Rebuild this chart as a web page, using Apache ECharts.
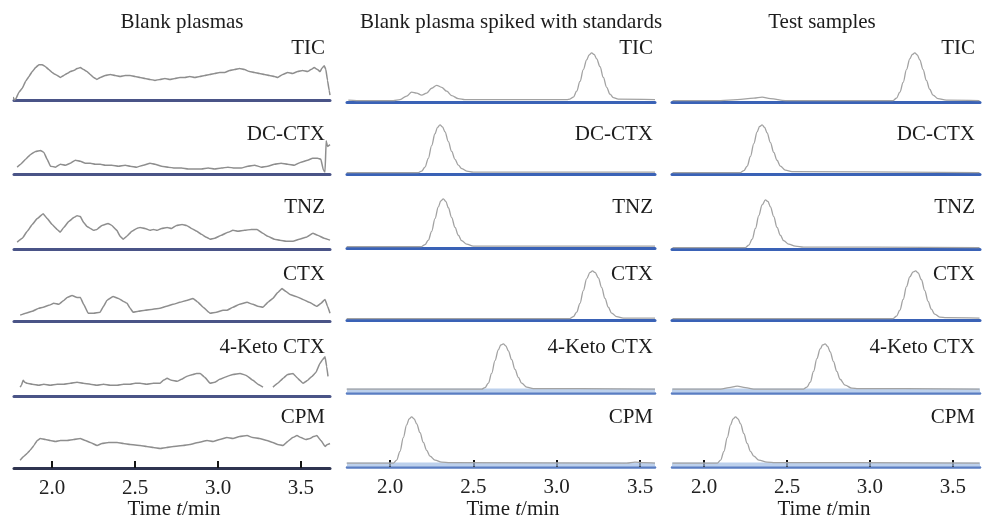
<!DOCTYPE html>
<html>
<head>
<meta charset="utf-8">
<script src="https://cdn.jsdelivr.net/npm/echarts@6/dist/echarts.min.js"></script>
<style>html,body{margin:0;padding:0;background:#fff}#c{width:982px;height:525px}</style>
</head>
<body>
<div id="c"></div>
<script>
// ---- text ----
const columnTitles = ['Blank plasmas', 'Blank plasma spiked with standards', 'Test samples'];
const rowLabels = ['TIC', 'DC-CTX', 'TNZ', 'CTX', '4-Keto CTX', 'CPM'];
const tickValues = [2.0, 2.5, 3.0, 3.5];

// ---- data: [time (min), relative intensity] ----
// Blank plasmas
const blankTIC = [[1.765,6],[1.772,0],[1.78,2],[1.8,16],[1.82,24],[1.84,38],[1.86,48],[1.88,58],[1.9,66],[1.92,72],[1.94,72],[1.96,68],[1.98,62],[2,56],[2.02,52],[2.05,46],[2.07,50],[2.09,54],[2.11,58],[2.13,60],[2.15,64],[2.17,66],[2.19,62],[2.21,58],[2.23,52],[2.25,46],[2.27,42],[2.29,46],[2.32,50],[2.35,52],[2.38,50],[2.41,48],[2.44,50],[2.47,50],[2.5,48],[2.53,46],[2.56,44],[2.59,42],[2.62,40],[2.65,42],[2.68,44],[2.71,42],[2.74,44],[2.77,46],[2.8,46],[2.83,48],[2.86,46],[2.89,48],[2.92,50],[2.95,52],[2.98,54],[3.01,56],[3.04,56],[3.07,60],[3.1,62],[3.13,64],[3.16,62],[3.19,58],[3.22,56],[3.25,54],[3.28,52],[3.31,50],[3.34,48],[3.36,46],[3.39,52],[3.42,56],[3.45,54],[3.48,58],[3.51,60],[3.54,58],[3.56,62],[3.58,66],[3.6,62],[3.615,58],[3.625,64],[3.64,70],[3.65,62],[3.66,40],[3.67,20],[3.675,10]];
const blankDC = [[1.789,14],[1.81,20],[1.84,30],[1.87,40],[1.9,46],[1.93,48],[1.95,44],[1.97,30],[1.99,16],[2.02,14],[2.05,20],[2.08,18],[2.11,22],[2.14,28],[2.17,26],[2.2,22],[2.23,22],[2.26,20],[2.29,20],[2.32,18],[2.36,18],[2.4,16],[2.44,18],[2.47,16],[2.51,14],[2.55,18],[2.59,22],[2.62,20],[2.66,16],[2.7,14],[2.74,12],[2.78,12],[2.82,10],[2.86,10],[2.9,10],[2.94,12],[2.98,10],[3.02,12],[3.06,14],[3.1,12],[3.14,12],[3.18,16],[3.22,18],[3.26,14],[3.3,16],[3.34,20],[3.38,22],[3.42,20],[3.46,18],[3.5,24],[3.54,28],[3.57,32],[3.6,32],[3.62,30],[3.635,8],[3.645,4],[3.652,68],[3.66,56],[3.675,60]];
const blankTNZ = [[1.789,14],[1.82,22],[1.85,36],[1.88,50],[1.91,62],[1.946,72],[1.97,62],[2,50],[2.03,40],[2.048,34],[2.07,44],[2.1,56],[2.13,64],[2.151,68],[2.17,66],[2.19,54],[2.21,46],[2.23,42],[2.25,38],[2.27,40],[2.3,48],[2.337,52],[2.36,48],[2.39,38],[2.41,26],[2.428,20],[2.45,26],[2.48,36],[2.51,42],[2.53,44],[2.56,42],[2.59,38],[2.61,40],[2.633,38],[2.66,42],[2.693,44],[2.72,42],[2.75,48],[2.783,50],[2.81,48],[2.84,42],[2.873,36],[2.9,30],[2.93,24],[2.952,20],[2.98,22],[3.02,28],[3.06,34],[3.09,38],[3.12,36],[3.16,38],[3.2,40],[3.235,40],[3.27,32],[3.3,26],[3.34,20],[3.373,18],[3.41,16],[3.452,16],[3.49,20],[3.53,24],[3.572,32],[3.6,28],[3.64,22],[3.675,18]];
const blankCTX = [[1.807,12],[1.84,16],[1.88,20],[1.92,26],[1.946,28],[1.98,32],[2.01,36],[2.04,34],[2.07,42],[2.09,48],[2.12,52],[2.15,48],[2.17,48],[2.19,34],[2.217,16],[2.25,16],[2.289,18],[2.31,30],[2.33,42],[2.367,50],[2.4,46],[2.43,40],[2.452,36],[2.47,26],[2.488,18],[2.52,20],[2.56,22],[2.608,24],[2.65,26],[2.69,30],[2.729,34],[2.77,38],[2.81,42],[2.849,46],[2.88,38],[2.91,28],[2.952,16],[2.99,18],[3.03,22],[3.054,22],[3.09,28],[3.13,34],[3.175,38],[3.21,34],[3.24,30],[3.271,28],[3.3,38],[3.33,46],[3.36,58],[3.386,66],[3.41,60],[3.434,54],[3.47,50],[3.512,44],[3.55,38],[3.596,30],[3.62,36],[3.645,44],[3.66,30],[3.675,16]];
const blank4K = [[1.807,18],[1.815,22],[1.825,32],[1.835,28],[1.849,26],[1.88,24],[1.92,22],[1.95,24],[1.988,22],[2.03,24],[2.07,24],[2.11,26],[2.15,28],[2.187,26],[2.23,24],[2.27,22],[2.31,24],[2.35,22],[2.392,22],[2.43,24],[2.47,24],[2.5,26],[2.53,26],[2.57,24],[2.61,26],[2.651,26],[2.67,32],[2.693,36],[2.72,32],[2.753,30],[2.78,34],[2.81,40],[2.849,44],[2.87,46],[2.892,46],[2.92,38],[2.952,26],[2.98,28],[3.01,34],[3.054,40],[3.09,44],[3.133,46],[3.17,42],[3.211,32],[3.24,24],[3.271,18],[3.3,null],[3.331,18],[3.36,26],[3.392,36],[3.42,44],[3.452,46],[3.48,36],[3.512,26],[3.54,32],[3.566,40],[3.59,48],[3.614,66],[3.63,74],[3.645,80],[3.655,60],[3.663,40]];
const blankCPM = [[1.807,16],[1.83,24],[1.85,30],[1.867,36],[1.89,46],[1.91,56],[1.928,60],[1.96,58],[1.988,56],[2.02,54],[2.05,56],[2.09,56],[2.13,58],[2.169,60],[2.2,56],[2.23,52],[2.271,46],[2.3,50],[2.34,52],[2.392,52],[2.43,50],[2.47,48],[2.53,46],[2.57,44],[2.61,42],[2.651,40],[2.69,42],[2.73,44],[2.789,46],[2.83,48],[2.88,52],[2.934,56],[2.97,54],[3.01,58],[3.054,62],[3.09,60],[3.13,64],[3.175,66],[3.21,62],[3.25,60],[3.295,56],[3.33,52],[3.36,48],[3.392,46],[3.42,54],[3.45,62],[3.476,66],[3.5,62],[3.53,58],[3.554,60],[3.575,64],[3.596,66],[3.62,56],[3.645,44],[3.66,48],[3.675,50]];
// Blank plasma spiked with standards
const spikedTIC = [[1.75,4],[1.8,3],[2.02,3],[2.06,5],[2.1,12],[2.13,20],[2.16,18],[2.19,14],[2.22,18],[2.25,28],[2.28,34],[2.31,30],[2.34,22],[2.37,13],[2.41,7],[2.45,5],[2.7,5],[3.06,5],[3.08,6],[3.1,10],[3.12,22],[3.14,42],[3.16,66],[3.18,86],[3.195,96],[3.21,100],[3.225,97],[3.24,88],[3.26,72],[3.28,50],[3.3,30],[3.32,16],[3.34,9],[3.37,6],[3.59,5]];
const spikedDC = [[1.74,3],[2.17,3],[2.19,6],[2.21,14],[2.23,32],[2.25,58],[2.27,82],[2.285,95],[2.3,100],[2.315,96],[2.33,86],[2.35,66],[2.37,46],[2.39,30],[2.41,18],[2.43,11],[2.46,6],[2.5,4],[3.59,4]];
const spikedTNZ = [[1.74,3],[2.19,3],[2.21,7],[2.23,16],[2.25,34],[2.27,60],[2.29,84],[2.305,96],[2.32,100],[2.335,95],[2.35,82],[2.37,62],[2.39,42],[2.41,26],[2.43,15],[2.46,8],[2.5,4],[3.59,4]];
const spikedCTX = [[1.74,3],[3.08,3],[3.1,7],[3.12,16],[3.14,34],[3.16,60],[3.18,84],[3.2,97],[3.215,100],[3.23,97],[3.25,86],[3.27,66],[3.29,44],[3.31,26],[3.33,14],[3.36,7],[3.4,4],[3.59,4]];
const spiked4K = [[1.74,8],[2.55,8],[2.57,11],[2.59,20],[2.61,40],[2.63,66],[2.65,88],[2.665,98],[2.68,100],[2.695,96],[2.71,86],[2.73,68],[2.75,48],[2.77,32],[2.79,20],[2.82,12],[2.86,9],[3.59,8]];
const spikedCPM = [[1.74,8],[2.02,8],[2.04,14],[2.06,32],[2.08,60],[2.1,86],[2.115,98],[2.13,102],[2.145,98],[2.16,88],[2.18,70],[2.2,50],[2.22,34],[2.24,22],[2.27,14],[2.31,10],[2.36,9],[3.42,8],[3.47,10],[3.52,9],[3.59,8]];
// Test samples
const testTIC = [[1.81,3],[2.1,3],[2.2,5],[2.3,8],[2.35,10],[2.4,7],[2.49,3],[3.14,3],[3.16,8],[3.18,20],[3.2,40],[3.22,66],[3.24,88],[3.255,97],[3.27,100],[3.285,96],[3.3,86],[3.32,66],[3.34,44],[3.36,26],[3.38,14],[3.41,7],[3.46,4],[3.66,3]];
const testDC = [[1.81,3],[2.22,3],[2.24,7],[2.26,16],[2.28,36],[2.3,62],[2.32,86],[2.335,97],[2.35,100],[2.365,95],[2.38,84],[2.4,64],[2.42,44],[2.44,28],[2.46,16],[2.49,8],[2.53,5],[3.66,3]];
const testTNZ = [[1.81,3],[2.25,3],[2.27,8],[2.29,20],[2.31,42],[2.33,68],[2.35,90],[2.37,100],[2.385,97],[2.4,86],[2.42,66],[2.44,44],[2.46,28],[2.48,17],[2.51,10],[2.55,6],[2.6,4],[3.66,3]];
const testCTX = [[1.81,3],[3.14,3],[3.16,8],[3.18,20],[3.2,42],[3.22,68],[3.24,88],[3.26,98],[3.275,100],[3.29,96],[3.31,82],[3.33,60],[3.35,38],[3.37,22],[3.39,12],[3.42,6],[3.46,5],[3.66,4]];
const test4K = [[1.81,8],[2.1,8],[2.15,11],[2.2,14],[2.25,11],[2.3,8],[2.6,8],[2.62,12],[2.64,22],[2.66,44],[2.68,70],[2.7,90],[2.715,98],[2.73,100],[2.745,95],[2.76,84],[2.78,64],[2.8,44],[2.82,28],[2.85,16],[2.89,10],[2.93,9],[3.66,8]];
const testCPM = [[1.81,8],[2.08,8],[2.1,14],[2.12,32],[2.14,60],[2.16,86],[2.175,98],[2.19,102],[2.205,98],[2.22,88],[2.24,68],[2.26,48],[2.28,32],[2.3,22],[2.33,14],[2.38,10],[2.43,9],[3.66,8]];

const traces = [
  [blankTIC, blankDC, blankTNZ, blankCTX, blank4K, blankCPM],
  [spikedTIC, spikedDC, spikedTNZ, spikedCTX, spiked4K, spikedCPM],
  [testTIC, testDC, testTNZ, testCTX, test4K, testCPM]
];

// ---- layout ----
const FONT = '"Liberation Serif", "Times New Roman", serif';
const colGeom = [
  {left: 14, width: 316, min: 1.77, max: 3.675, labelRight: 325, nameX: 174, titleX: 182},
  {left: 347, width: 308, min: 1.742, max: 3.59, labelRight: 653, nameX: 513, titleX: 511},
  {left: 672, width: 308, min: 1.807, max: 3.663, labelRight: 975, nameX: 824, titleX: 822}
];
const rowBase = [
  [100, 174, 249, 321, 396, 468],
  [102, 174, 248, 320, 393, 467],
  [102, 174, 249, 320, 393, 467]
];
const labelY = [48, 134, 207, 274, 347, 417];
const GH = 52;

const grid = [], xAxis = [], yAxis = [], series = [], graphic = [];
for (let c = 0; c < 3; c++) {
  const g = colGeom[c];
  for (let r = 0; r < 6; r++) {
    const i = c * 6 + r;
    const bottomRow = r === 5;
    const band = c > 0 && r >= 4;
    const lineColor = c === 0 ? (bottomRow ? '#2f3450' : '#4a5487') : (band ? '#5a7dc2' : '#3a62b6');
    grid.push({left: g.left, width: g.width, top: rowBase[c][r] - GH, height: GH});
    xAxis.push({
      type: 'value', gridIndex: i, min: g.min, max: g.max,
      axisLine: {show: true, onZero: false, lineStyle: {color: lineColor, width: band ? 2.5 : 3}},
      axisTick: {show: bottomRow, inside: true, length: 7, customValues: tickValues, lineStyle: {color: '#151515', width: 2}},
      axisLabel: {show: bottomRow, customValues: tickValues, formatter: v => Number(v).toFixed(1),
                  fontFamily: FONT, fontSize: 21, color: '#222', margin: 10},
      splitLine: {show: false}
    });
    yAxis.push({type: 'value', gridIndex: i, min: 0, max: 106, show: false});
    const s = {
      type: 'line', xAxisIndex: i, yAxisIndex: i, data: traces[c][r],
      symbol: 'none', showSymbol: false, silent: true, clip: false,
      smooth: c === 0 ? 0.1 : 0.35, smoothMonotone: 'x',
      lineStyle: {color: c === 0 ? '#8e8e8e' : '#a2a2a2', width: c === 0 ? 1.5 : 1.3}
    };
    if (band) {
      s.markArea = {silent: true, itemStyle: {color: 'rgba(160,188,228,0.7)'}, data: [[{yAxis: 1}, {yAxis: 9}]]};
    }
    series.push(s);
    graphic.push({type: 'text', x: g.labelRight, y: labelY[r],
      style: {text: rowLabels[r], font: '21px ' + FONT, fill: '#1c1c1c', align: 'right', verticalAlign: 'middle'}});
  }
  graphic.push({type: 'text', x: g.titleX, y: 22,
    style: {text: columnTitles[c], font: '21px ' + FONT, fill: '#1c1c1c', align: 'center', verticalAlign: 'middle'}});
  graphic.push({type: 'text', x: g.nameX, y: 509,
    style: {text: '{a|Time }{i|t}{a|/min}', align: 'center', verticalAlign: 'middle',
      rich: {a: {fontFamily: FONT, fontSize: 21, fill: '#1c1c1c', color: '#1c1c1c'},
             i: {fontFamily: FONT, fontSize: 21, fontStyle: 'italic', fill: '#1c1c1c', color: '#1c1c1c'}}}});
}

const chart = echarts.init(document.getElementById('c'), null, {renderer: 'canvas'});
chart.setOption({
  backgroundColor: '#ffffff',
  animation: false,
  grid, xAxis, yAxis, series, graphic
});
</script>
</body>
</html>
